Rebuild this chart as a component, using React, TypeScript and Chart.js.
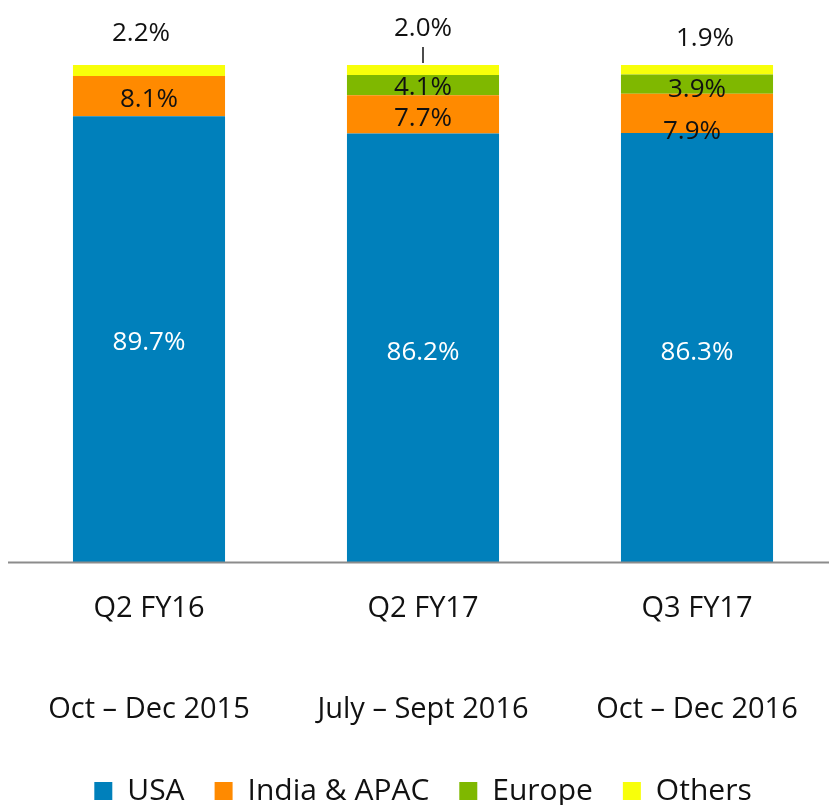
import React, { useEffect, useRef } from "react";
import { Chart, registerables } from "chart.js";

Chart.register(...registerables);

const categories = ["Q2 FY16", "Q2 FY17", "Q3 FY17"];
const periods = ["Oct – Dec 2015", "July – Sept 2016", "Oct – Dec 2016"];
const seriesNames = ["USA", "India & APAC", "Europe", "Others"];
const usa = [89.7, 86.2, 86.3];
const indiaApac = [8.1, 7.7, 7.9];
const europe = [0, 4.1, 3.9];
const others = [2.2, 2.0, 1.9];

const COLORS = ["#0080BB", "#FF8A00", "#7FB800", "#F8FF0A"];
const LABEL_COLORS = ["#ffffff", "#111111", "#111111", "#111111"];
const FONT = "'Open Sans', 'DejaVu Sans', sans-serif";

// label offsets [dx, dy] in pixels (styling only)
const INSIDE_OFFSETS = [
  [[0, 3], [0, 5], [0, 5]],
  [[0, 4], [0, 4], [-5, 18]],
  [[0, 0], [0, 2], [0, 5]],
];
const ABOVE_OFFSETS = [[-8, -31], [0, -36], [8, -26]];
const LEADER = [false, true, false];

const labelPlugin = {
  id: "segmentLabels",
  afterDatasetsDraw(chart: any) {
    const ctx = chart.ctx;
    ctx.save();
    // axis line at value 0
    const yAxis = Math.round(chart.scales.y.getPixelForValue(0)) + 0.5;
    ctx.strokeStyle = "#8c8c8c";
    ctx.lineWidth = 2;
    ctx.beginPath();
    ctx.moveTo(8, yAxis);
    ctx.lineTo(chart.width, yAxis);
    ctx.stroke();

    ctx.font = `26px ${FONT}`;
    ctx.textAlign = "center";
    ctx.textBaseline = "middle";
    chart.data.datasets.forEach((ds: any, di: number) => {
      const meta = chart.getDatasetMeta(di);
      meta.data.forEach((el: any, i: number) => {
        const v = ds.data[i];
        if (!v) return;
        const text = v.toFixed(1) + "%";
        if (di === 3) {
          const top = Math.min(el.y, el.base);
          const [dx, dy] = ABOVE_OFFSETS[i];
          ctx.fillStyle = "#111111";
          ctx.fillText(text, el.x + dx, top + dy);
          if (LEADER[i]) {
            ctx.strokeStyle = "#111111";
            ctx.lineWidth = 1.5;
            ctx.beginPath();
            ctx.moveTo(el.x, top - 18);
            ctx.lineTo(el.x, top - 2);
            ctx.stroke();
          }
        } else {
          const [dx, dy] = INSIDE_OFFSETS[di][i];
          ctx.fillStyle = LABEL_COLORS[di];
          ctx.fillText(text, el.x + dx, (el.y + el.base) / 2 + dy);
        }
      });
    });
    ctx.restore();
  },
};

export default function App() {
  const ref = useRef<HTMLCanvasElement | null>(null);
  useEffect(() => {
    if (!ref.current) return;
    const values = [usa, indiaApac, europe, others];
    const chart = new Chart(ref.current, {
      type: "bar",
      data: {
        labels: categories.map((c, i) => [c, "", "", "", periods[i]]),
        datasets: seriesNames.map((name, i) => ({
          label: name,
          data: values[i],
          backgroundColor: COLORS[i],
          borderWidth: 0,
          categoryPercentage: 1,
          barPercentage: 0.555,
        })),
      },
      options: {
        responsive: false,
        animation: false,
        devicePixelRatio: 1,
        layout: { padding: { top: 65, left: 12, right: 6, bottom: 0 } },
        plugins: {
          legend: {
            position: "bottom",
            labels: {
              boxWidth: 18,
              boxHeight: 18,
              padding: 30,
              color: "#111111",
              font: { family: FONT, size: 30 },
            },
          },
          tooltip: { enabled: false },
        },
        scales: {
          x: {
            stacked: true,
            grid: { display: false, drawTicks: false, tickLength: 0 },
            border: { display: false },
            ticks: {
              padding: 24,
              maxRotation: 0,
              autoSkip: false,
              color: "#111111",
              font: { family: FONT, size: 29, lineHeight: "25.25px" },
            },
          },
          y: {
            stacked: true,
            display: false,
            min: -1.91,
            max: 100,
          },
        },
      },
      plugins: [labelPlugin],
    });
    return () => chart.destroy();
  }, []);
  return (
    <div
      style={{
        position: "fixed",
        left: 0,
        top: 0,
        width: 829,
        height: 805,
        overflow: "hidden",
        background: "#ffffff",
      }}
    >
      <canvas ref={ref} width={840} height={816} style={{ display: "block" }} />
    </div>
  );
}
